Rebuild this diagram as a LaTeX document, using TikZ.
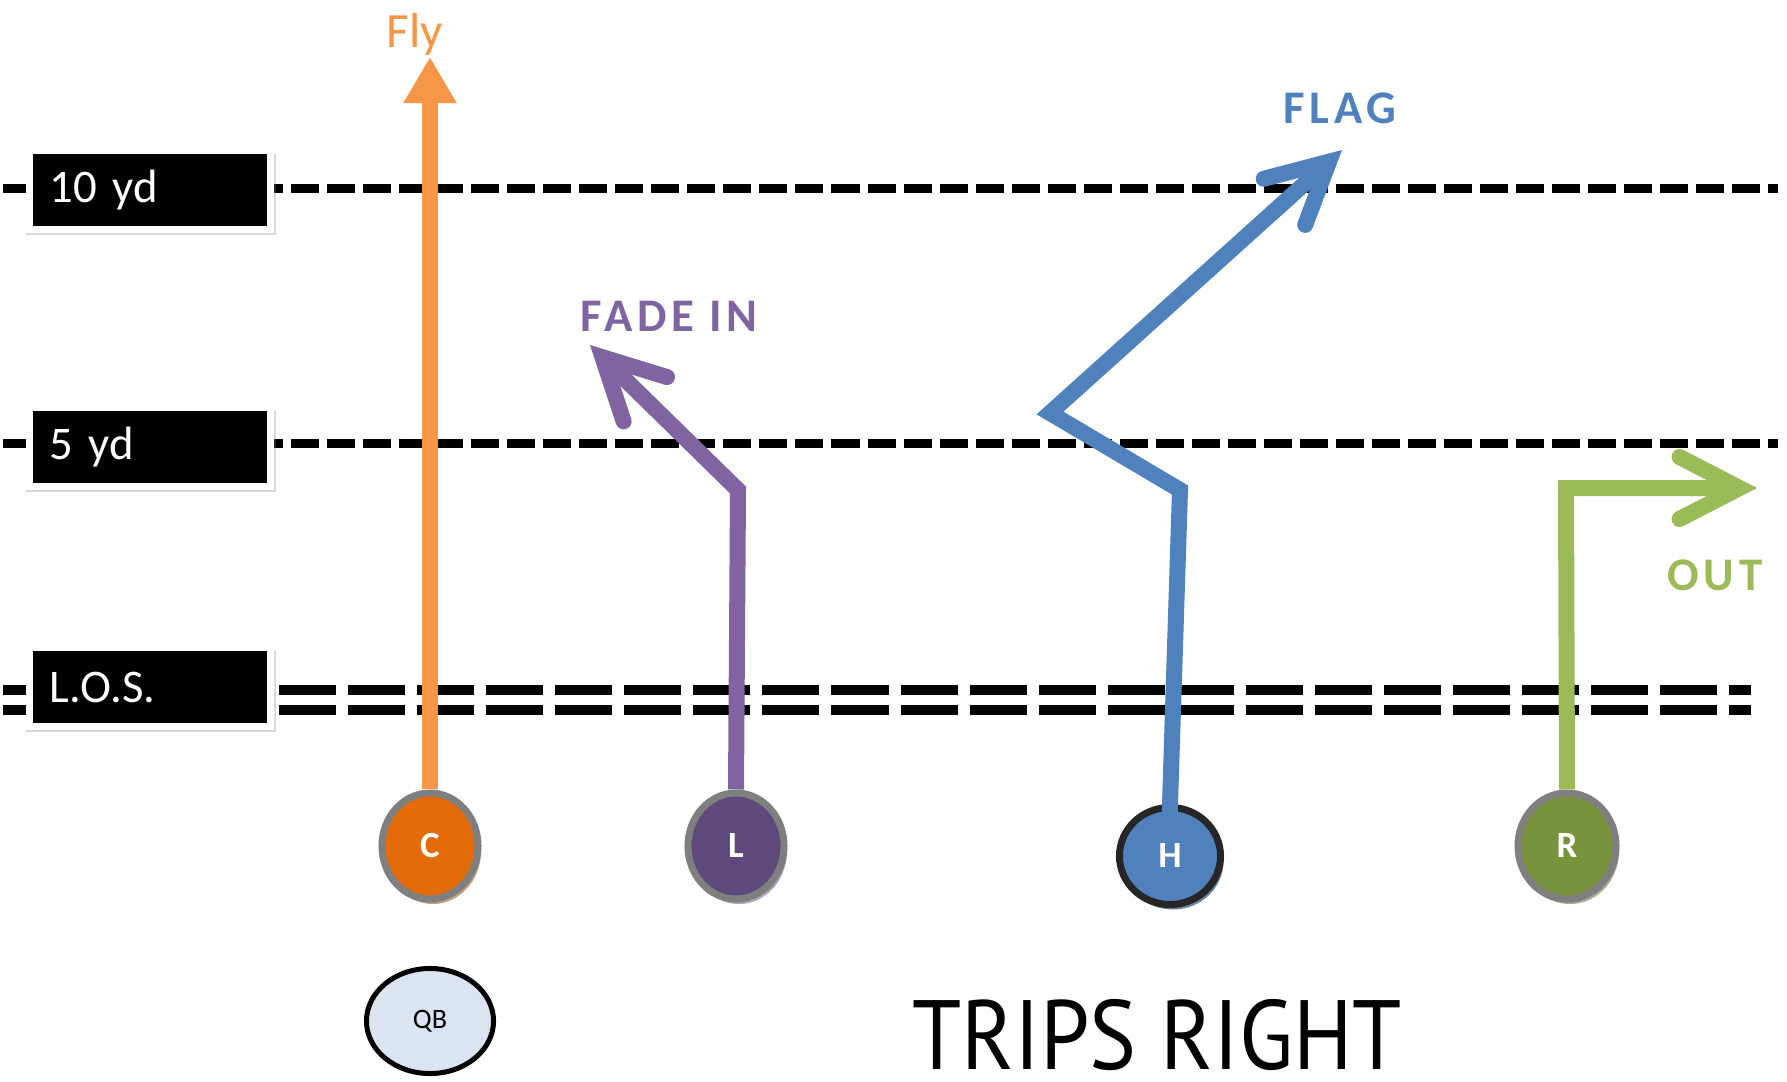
\documentclass[tikz,border=0pt]{standalone}
\usepackage{fontspec}
\setmainfont{Carlito}
\newfontfamily\titlefont[FakeStretch=0.9]{PT Sans}
\usetikzlibrary{arrows.meta,shapes.geometric,shadows}
\definecolor{flyorange}{HTML}{F79646}
\definecolor{cfill}{HTML}{E36C09}
\definecolor{fadepurple}{HTML}{8064A2}
\definecolor{lfill}{HTML}{5F497A}
\definecolor{flagblue}{HTML}{4F81BD}
\definecolor{outgreen}{HTML}{9BBB59}
\definecolor{rfill}{HTML}{77933C}
\definecolor{rimgray}{HTML}{7F7F7F}
\definecolor{qbfill}{HTML}{DBE5F1}

\begin{document}
\begin{tikzpicture}[x=0.01cm,y=-0.01cm,
	yard/.style={line width=0.09cm,dash pattern=on 0.28cm off 0.08cm},
	los/.style={line width=0.1cm,dash pattern=on 0.57cm off 0.12cm},
	tag/.style={fill=black,draw=white,line width=0.07cm,minimum height=0.78cm,text width=2.01cm,inner xsep=0.2cm,align=left,text=white,font=\fontsize{13.3}{16}\selectfont,drop shadow={opacity=0.3,shadow scale=1.035,shadow xshift=0.01cm,shadow yshift=-0.04cm}},
	player/.style={ellipse,draw=rimgray,line width=0.07cm,minimum width=0.96cm,minimum height=1.06cm,inner sep=0pt,text=white,font=\fontsize{10.5}{12}\selectfont\bfseries},
	route/.style={line width=0.16cm,line join=miter},
	barb/.style={-{Straight Barb[length=0.6cm,width=0.62cm,line cap=round,line join=miter]}},
	call/.style={inner sep=0pt,anchor=base west,font=\fontsize{13.3}{16}\selectfont\bfseries\addfontfeature{LetterSpace=10}},
]
	\useasboundingbox (0,0) rectangle (1787,1081);

	\coordinate (flytip) at (430,57);
	\coordinate (fadecut) at (738,490);
	\coordinate (fadetip) at (590,345);
	\coordinate (flagcut) at (1180,490);
	\coordinate (flagbend) at (1050,413);
	\coordinate (flagtip) at (1342,150);
	\coordinate (outcut) at (1566,488);
	\coordinate (outtip) at (1757,488);

\draw[yard] (3,188) -- (1778,188);
\draw[yard] (3,443) -- (1778,443);
\draw[los] (3,690) -- (1751,690);
\draw[los] (3,710) -- (1751,710);

\node[tag] (ten) at (150,190) {10 yd};
\node[tag] (five) at (150,447) {5 yd};
\node[tag] (los) at (150,687) {L.O.S.};

\node[player,fill=cfill,drop shadow={opacity=1,fill=cfill!45!gray!70,shadow xshift=0.03cm,shadow yshift=-0.05cm}] (C) at (430,846) {C};
\node[player,fill=lfill,drop shadow={opacity=1,fill=lfill!50!white,shadow xshift=0.03cm,shadow yshift=-0.05cm}] (L) at (736,846) {L};
\node[player,fill=flagblue,draw=black!85,minimum width=1.01cm,minimum height=0.97cm,drop shadow={opacity=1,fill=flagblue!45!gray,shadow xshift=0.03cm,shadow yshift=-0.05cm}] (H) at (1170,856) {H};
\node[player,fill=rfill,minimum width=0.98cm,drop shadow={opacity=1,fill=rfill!45!gray!70,shadow xshift=0.03cm,shadow yshift=-0.05cm}] (R) at (1567,846) {R};
\node[ellipse,draw=black,fill=qbfill,line width=0.05cm,minimum width=1.27cm,minimum height=1.05cm,inner sep=0pt,font=\fontsize{8}{10}\selectfont] (QB) at (430,1021) {QB};

	\draw[route,flyorange,-{Triangle[width=0.5cm,length=0.46cm]}] (C.north) -- (flytip);
	\draw[route,fadepurple,barb] (L.north) -- (fadecut) -- (fadetip);
	\draw[route,flagblue,barb,shorten <=-0.1cm] (H.north) -- (flagcut) -- (flagbend) -- (flagtip);
	\draw[route,outgreen,barb] (R.north) -- (outcut) -- (outtip);

\node[inner sep=0pt,anchor=base,flyorange,font=\fontsize{14}{16}\selectfont] (flylabel) at (415,47) {Fly};
\node[call,fadepurple] (fadelabel) at (580,331) {FADE IN};
\node[call,flagblue] (flaglabel) at (1283,123) {FLAG};
\node[call,outgreen] (outlabel) at (1667,590) {OUT};
\node[inner sep=0pt,anchor=base west,font=\titlefont\fontsize{28}{30}\selectfont] (title) at (912,1069) {TRIPS RIGHT};
\end{tikzpicture}
\end{document}
